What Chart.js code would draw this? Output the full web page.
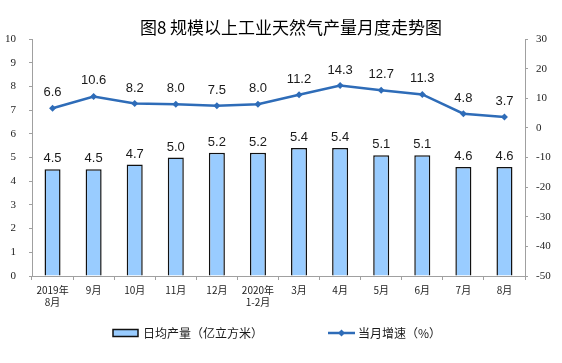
<!DOCTYPE html>
<html>
<head>
<meta charset="utf-8">
<script src="https://cdn.jsdelivr.net/npm/chart.js@4"></script>
<style>
html,body{margin:0;padding:0;background:#fff;}
#wrap{width:562px;height:363px;position:relative;}
</style>
</head>
<body>
<div id="wrap"><canvas id="c" width="562" height="363"></canvas></div>
<script>
const titleText = "图8 规模以上工业天然气产量月度走势图";
const categories = [["2019年","8月"],"9月","10月","11月","12月",["2020年","1-2月"],"3月","4月","5月","6月","7月","8月"];
const dailyOutput = [4.5,4.5,4.7,5.0,5.2,5.2,5.4,5.4,5.1,5.1,4.6,4.6];
const growthRate = [6.6,10.6,8.2,8.0,7.5,8.0,11.2,14.3,12.7,11.3,4.8,3.7];
const seriesNames = ["日均产量（亿立方米）","当月增速（%）"];
const leftRange = [0,10,1];
const rightRange = [-50,30,10];

const BAR_FILL = "#99ccff";
const LINE_COLOR = "#2e6cb8";
const AXIS_COLOR = "#a0a0a0";

const titlePlugin = {
  id: "titleText",
  afterDraw(chart){
    const ctx = chart.ctx;
    ctx.save();
    ctx.font = "400 17px 'Noto Sans CJK SC'";
    ctx.fillStyle = "#000";
    ctx.textAlign = "center";
    ctx.textBaseline = "middle";
    ctx.fillText(titleText, chart.width/2 + 10, 28);
    ctx.restore();
  }
};

const labelPlugin = {
  id: "valueLabels",
  afterDatasetsDraw(chart){
    const ctx = chart.ctx;
    ctx.save();
    ctx.font = "13px 'Liberation Sans'";
    ctx.fillStyle = "#1a1a1a";
    ctx.textAlign = "center";
    ctx.textBaseline = "alphabetic";
    chart.data.datasets.forEach((ds, di) => {
      const meta = chart.getDatasetMeta(di);
      meta.data.forEach((el, i) => {
        const v = ds.data[i];
        const off = ds.type === "line" ? 12 : 7;
        ctx.fillText(v.toFixed(1), el.x, el.y - off);
      });
    });
    ctx.restore();
  }
};

const legendPlugin = {
  id: "customLegend",
  afterDraw(chart){
    const ctx = chart.ctx;
    const a = chart.chartArea;
    const y = 333;
    ctx.save();
    ctx.font = "12px 'Noto Sans CJK SC'";
    ctx.textBaseline = "middle";
    ctx.textAlign = "left";
    // bar item
    let x = a.left + 81;
    ctx.fillStyle = BAR_FILL;
    ctx.fillRect(x, y-3.5, 25, 7);
    ctx.strokeStyle = "#111";
    ctx.lineWidth = 1.5;
    ctx.strokeRect(x, y-3.5, 25, 7);
    ctx.fillStyle = "#1a1a1a";
    ctx.fillText(seriesNames[0], x + 30, y);
    // line item
    x = a.left + 296;
    ctx.strokeStyle = LINE_COLOR;
    ctx.lineWidth = 2.5;
    ctx.beginPath(); ctx.moveTo(x, y); ctx.lineTo(x+27, y); ctx.stroke();
    ctx.fillStyle = LINE_COLOR;
    ctx.beginPath();
    ctx.moveTo(x+13.5, y-3.5); ctx.lineTo(x+17, y); ctx.lineTo(x+13.5, y+3.5); ctx.lineTo(x+10, y); ctx.closePath(); ctx.fill();
    ctx.fillStyle = "#1a1a1a";
    ctx.fillText(seriesNames[1], x + 30, y);
    ctx.restore();
  }
};

new Chart(document.getElementById("c"), {
  data: {
    labels: categories,
    datasets: [
      {
        type: "line",
        label: seriesNames[1],
        data: growthRate,
        yAxisID: "y1",
        borderColor: LINE_COLOR,
        backgroundColor: LINE_COLOR,
        borderWidth: 2.5,
        pointStyle: "rectRot",
        pointRadius: 3.5,
        pointBackgroundColor: LINE_COLOR,
        pointBorderWidth: 0,
        tension: 0,
        order: 0
      },
      {
        type: "bar",
        label: seriesNames[0],
        data: dailyOutput,
        yAxisID: "y",
        backgroundColor: BAR_FILL,
        borderColor: "#111",
        borderWidth: 1.5,
        barPercentage: 0.39,
        categoryPercentage: 1,
        order: 1
      }
    ]
  },
  options: {
    responsive: false,
    animation: false,
    events: [],
    layout: { padding: { top: 39, left: 0, right: 0, bottom: 0 } },
    plugins: { legend: { display: false }, title: { display: false }, tooltip: { enabled: false } },
    scales: {
      x: {
        offset: true,
        grid: { display: true, drawOnChartArea: false, offset: true, tickLength: 4, color: AXIS_COLOR },
        border: { color: AXIS_COLOR, width: 1 },
        ticks: { font: { family: "'Noto Sans CJK SC'", size: 10 }, color: "#222", padding: 4, maxRotation: 0, autoSkip: false },
        afterFit(s){ s.height = 87; }
      },
      y: {
        position: "left",
        min: leftRange[0], max: leftRange[1],
        grid: { display: true, drawOnChartArea: false, tickLength: 3, color: AXIS_COLOR },
        border: { color: AXIS_COLOR, width: 1 },
        ticks: { stepSize: leftRange[2], font: { family: "'Liberation Serif'", size: 11 }, color: "#222", padding: 13 },
        afterFit(s){ s.width = 32; }
      },
      y1: {
        position: "right",
        min: rightRange[0], max: rightRange[1],
        grid: { display: true, drawOnChartArea: false, tickLength: 3, color: AXIS_COLOR },
        border: { color: AXIS_COLOR, width: 1 },
        ticks: { stepSize: rightRange[2], font: { family: "'Liberation Serif'", size: 11 }, color: "#222", padding: 8 },
        afterFit(s){ s.width = 37; }
      }
    }
  },
  plugins: [titlePlugin, labelPlugin, legendPlugin]
});
</script>
</body>
</html>
